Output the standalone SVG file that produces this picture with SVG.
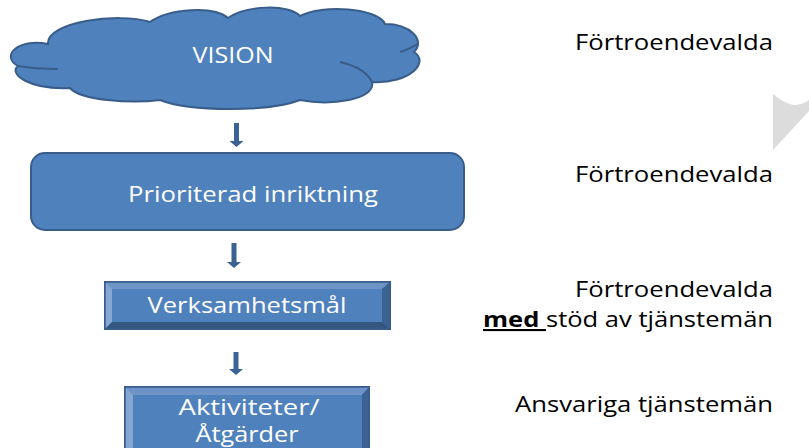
<svg xmlns="http://www.w3.org/2000/svg" width="809" height="448" viewBox="0 0 809 448">
<defs>
<style>
.shape{fill:#4F81BD;stroke:#385D8A;stroke-width:2}
.inner{fill:none;stroke:#385D8A;stroke-width:2}
.wt{font-family:"Open Sans","Liberation Sans",sans-serif;fill:#FFFFFF;font-size:21px;text-anchor:middle}
.bt{font-family:"Open Sans","Liberation Sans",sans-serif;fill:#000000;font-size:21px;text-anchor:end}
.arrow{fill:#3A6294}
.bl{fill:#86A7D4}
.btop{fill:#6E93C7}
.br{fill:#3C6293}
.bb{fill:#33577F}
</style>
</defs>
<rect width="809" height="448" fill="#FFFFFF"/>

<g id="vision">
<path class="shape" d="M48,44 C46,22 118,12 150,22 C170,8 214,6 228,18 C246,5 290,4 300,16 C322,4 378,8 385,24 C410,24 426,40 414,52 C430,62 410,84 372,82 C376,100 330,106 300,100 C270,112 190,112 160,100 C130,104 80,100 70,88 C30,90 8,74 18,66 C0,56 18,38 48,44 Z"/>
<path class="inner" d="M18,66 C30,68 45,69 58,69"/>
<path class="inner" d="M340,62 C358,66 368,74 372,82"/>
<path class="inner" d="M400,52 C407,50 412,47 418,44"/>
<text class="wt" x="233" y="63" textLength="81" lengthAdjust="spacingAndGlyphs">VISION</text>
</g>

<g id="prioriterad">
<rect class="shape" x="31" y="153" width="433" height="77" rx="14" ry="14"/>
<text class="wt" x="253" y="202" font-size="22" textLength="250" lengthAdjust="spacingAndGlyphs">Prioriterad inriktning</text>
</g>

<g id="verksamhetsmal">
<rect class="shape" x="105" y="282" width="285" height="47"/>
<polygon class="btop" points="105,282 390,282 382,289 112,289"/>
<polygon class="bl" points="105,282 112,289 112,322 105,329"/>
<polygon class="br" points="390,282 390,329 382,322 382,289"/>
<polygon class="bb" points="105,329 112,322 382,322 390,329"/>
<rect x="105" y="282" width="285" height="47" fill="none" stroke="#385D8A" stroke-width="1.5"/>
<text class="wt" x="247" y="313" textLength="199" lengthAdjust="spacingAndGlyphs">Verksamhetsmål</text>
</g>

<g id="aktiviteter">
<rect class="shape" x="125" y="387" width="244" height="70"/>
<polygon class="btop" points="125,387 369,387 362,395 133,395"/>
<polygon class="bl" points="125,387 133,395 133,449 125,449"/>
<polygon class="br" points="369,387 369,449 362,449 362,395"/>
<rect x="125" y="387" width="244" height="70" fill="none" stroke="#385D8A" stroke-width="1.5"/>
<text class="wt" x="249" y="415" textLength="141" lengthAdjust="spacingAndGlyphs">Aktiviteter/</text>
<text class="wt" x="247" y="442" textLength="103" lengthAdjust="spacingAndGlyphs">Åtgärder</text>
</g>

<g id="connectors">
<path class="arrow" d="M234,123 H239 V141 H243.5 L236.5,147 L229.5,141 H234 Z"/>
<path class="arrow" d="M231.5,243 H236.5 V262 H241 L234,268 L227,262 H231.5 Z"/>
<path class="arrow" d="M233.5,352 H238.5 V369 H243 L236,375 L229,369 H233.5 Z"/>
</g>

<g id="labels">
<text class="bt" x="773" y="50" textLength="198" lengthAdjust="spacingAndGlyphs">Förtroendevalda</text>
<text class="bt" x="773" y="182" textLength="198" lengthAdjust="spacingAndGlyphs">Förtroendevalda</text>
<text class="bt" x="773" y="297" textLength="198" lengthAdjust="spacingAndGlyphs">Förtroendevalda</text>
<text class="bt" x="773" y="327" textLength="290" lengthAdjust="spacingAndGlyphs"><tspan font-weight="bold" text-decoration="underline">med </tspan>stöd av tjänstemän</text>
<text class="bt" x="773" y="412" textLength="258" lengthAdjust="spacingAndGlyphs">Ansvariga tjänstemän</text>
</g>

<g id="chevron">
<path d="M773,94 C785,103 795,110 809,100 V111 L773,150 Z" fill="#DCDCDC"/>
</g>
</svg>
